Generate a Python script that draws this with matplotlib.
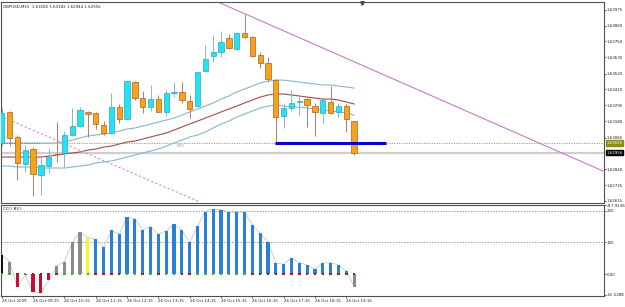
import matplotlib
matplotlib.use("Agg")
import matplotlib.pyplot as plt
from matplotlib.transforms import blended_transform_factory
import numpy as np

# GBPUSD M15, 26 Oct 2009 08:15 .. 19:30
opens = [1.63026, 1.63247, 1.63069, 1.62877, 1.62983, 1.62798, 1.62862, 1.62951, 1.62955, 1.63083,
         1.63147, 1.63247, 1.63240, 1.63154, 1.63097, 1.63282, 1.63197, 1.63460, 1.63346, 1.63282,
         1.63339, 1.63247, 1.63385, 1.63389, 1.63325, 1.63289, 1.63538, 1.63645, 1.63674, 1.63773,
         1.63695, 1.63809, 1.63781, 1.63652, 1.63595, 1.63474, 1.63218, 1.63275, 1.63315, 1.63339,
         1.63289, 1.63240, 1.63318, 1.63247, 1.63289, 1.63182]
highs = [1.63282, 1.63254, 1.63083, 1.63012, 1.62997, 1.62919, 1.62983, 1.63175, 1.63111, 1.63275,
         1.63282, 1.63254, 1.63247, 1.63182, 1.63382, 1.63304, 1.63467, 1.63467, 1.63396, 1.63439,
         1.63368, 1.63403, 1.63460, 1.63460, 1.63368, 1.63531, 1.63724, 1.63795, 1.63823, 1.63802,
         1.63816, 1.63944, 1.63788, 1.63674, 1.63638, 1.63482, 1.63311, 1.63403, 1.63375, 1.63346,
         1.63311, 1.63353, 1.63432, 1.63311, 1.63304, 1.63182]
lows = [1.63004, 1.63004, 1.62762, 1.62817, 1.62648, 1.62656, 1.62810, 1.62891, 1.62855, 1.63076,
        1.63140, 1.63069, 1.63126, 1.63083, 1.63090, 1.63168, 1.63190, 1.63332, 1.63240, 1.63254,
        1.63247, 1.63218, 1.63353, 1.63311, 1.63204, 1.63282, 1.63531, 1.63603, 1.63638, 1.63695,
        1.63688, 1.63773, 1.63638, 1.63560, 1.63460, 1.63026, 1.63133, 1.63254, 1.63225, 1.63140,
        1.63076, 1.63168, 1.63232, 1.63211, 1.63104, 1.62944]
closes = [1.63240, 1.63062, 1.62884, 1.62976, 1.62803, 1.62869, 1.62926, 1.62948, 1.63083, 1.63147,
          1.63261, 1.63232, 1.63161, 1.63097, 1.63282, 1.63197, 1.63467, 1.63346, 1.63282, 1.63339,
          1.63247, 1.63382, 1.63389, 1.63332, 1.63268, 1.63531, 1.63624, 1.63674, 1.63745, 1.63702,
          1.63809, 1.63781, 1.63645, 1.63595, 1.63482, 1.63211, 1.63275, 1.63311, 1.63322, 1.63296,
          1.63247, 1.63332, 1.63240, 1.63289, 1.63197, 1.62956]

band_upper = [1.63026, 1.63026, 1.63026, 1.63026, 1.63026, 1.63026, 1.63026, 1.63026, 1.63033, 1.63047,
              1.63062, 1.63076, 1.63083, 1.63090, 1.63097, 1.63111, 1.63126, 1.63133, 1.63147, 1.63161,
              1.63175, 1.63190, 1.63204, 1.63225, 1.63247, 1.63268, 1.63289, 1.63311, 1.63339, 1.63361,
              1.63389, 1.63410, 1.63432, 1.63453, 1.63467, 1.63474, 1.63474, 1.63467, 1.63460, 1.63453,
              1.63446, 1.63439, 1.63439, 1.63432, 1.63425, 1.63417]
band_mid = [1.62926, 1.62926, 1.62926, 1.62926, 1.62926, 1.62926, 1.62933, 1.62940, 1.62948, 1.62955,
            1.62962, 1.62976, 1.62983, 1.62997, 1.63004, 1.63019, 1.63033, 1.63040, 1.63054, 1.63069,
            1.63083, 1.63097, 1.63118, 1.63140, 1.63161, 1.63182, 1.63204, 1.63225, 1.63247, 1.63268,
            1.63289, 1.63311, 1.63332, 1.63353, 1.63368, 1.63375, 1.63375, 1.63368, 1.63361, 1.63353,
            1.63346, 1.63339, 1.63339, 1.63332, 1.63318, 1.63304]
band_lower = [1.62862, 1.62862, 1.62855, 1.62855, 1.62855, 1.62848, 1.62848, 1.62848, 1.62848, 1.62855,
              1.62862, 1.62869, 1.62884, 1.62891, 1.62898, 1.62912, 1.62926, 1.62940, 1.62955, 1.62969,
              1.62983, 1.63004, 1.63026, 1.63047, 1.63069, 1.63083, 1.63104, 1.63133, 1.63161, 1.63182,
              1.63211, 1.63232, 1.63254, 1.63275, 1.63289, 1.63296, 1.63289, 1.63282, 1.63282, 1.63275,
              1.63268, 1.63261, 1.63254, 1.63247, 1.63240, 1.63225]

cci = [60, 39, -42, -4, -57, -61, -20, 25, 39, 100,
       132, 115, 110, 84, 139, 125, 179, 175, 139, 150,
       125, 137, 157, 139, 100, 152, 197, 205, 203, 195,
       195, 195, 155, 128, 102, 34, 31, 50, 36, 28,
       16, 34, 36, 28, 9, -40]
cci_col = ["k", "g", "r", "r", "r", "r", "r", "g", "g", "g",
           "g", "y", "b", "b", "b", "b", "b", "b", "b", "b",
           "b", "b", "b", "b", "b", "b", "b", "b", "b", "b",
           "b", "b", "b", "b", "b", "b", "b", "b", "b", "b",
           "b", "b", "b", "b", "b", "g"]
dot_col = ["g", "g", "r", "g", "r", "r", "r", "r", "g", "g",
           "g", "g", "r", "r", "r", "r", "g", "g", "r", "g",
           "r", "g", "g", "r", "r", "g", "g", "g", "g", "g",
           "g", "g", "r", "r", "r", "r", "r", "r", "r", "r",
           "r", "r", "r", "r", "r", "r"]

xlabels = ["26 Oct 2009", "26 Oct 09:15", "26 Oct 10:15", "26 Oct 11:15", "26 Oct 12:15",
           "26 Oct 13:15", "26 Oct 14:15", "26 Oct 15:15", "26 Oct 16:15", "26 Oct 17:15",
           "26 Oct 18:15", "26 Oct 19:15"]
price_ticks = [1.63975, 1.63860, 1.63750, 1.63635, 1.63520, 1.63410, 1.63295, 1.63180,
               1.63065, 1.62840, 1.62725, 1.62615]
cci_ticks = [217.9136, 200, 100, 0, -65.5288]
cci_tick_labels = ["217.9136", "200", "100", "0.00", "-65.5288"]

# drawn objects (bar index, price)
trend_solid = [(27.9, 1.64023), (76.8, 1.62826)]
trend_dashed = [(-0.2, 1.63218), (25.3, 1.62606)]
support = [(34.9, 1.63026), (49.1, 1.63026)]
ms1_level = 1.63026
bid = 1.62956

hist_colors = {"k": "#111111", "g": "#8a8a8a", "r": "#c8102e", "y": "#f5f52a", "b": "#2a7fd6"}
dot_colors = {"g": "#3cb043", "r": "#c0101c"}

fs = 2.9
bars = np.arange(len(opens))
o = np.array(opens); c = np.array(closes)
up = c >= o

fig = plt.figure(figsize=(6.25, 3.07), dpi=100)
fig.patch.set_facecolor("white")
ax = fig.add_axes([1/625, 104/307, 603/625, 201/307])
ax2 = fig.add_axes([1/625, 11/307, 603/625, 91/307])

for a in (ax, ax2):
    a.set_xlim(-0.09, 76.9)
    for s in a.spines.values():
        s.set_color("#505050")
        s.set_linewidth(0.8)
    a.yaxis.tick_right()
    a.tick_params(axis="y", length=1.5, width=0.5, labelsize=fs, pad=0.6, colors="#202020")

ax.set_ylim(1.62599, 1.64030)

# horizontal levels
ax.axhline(bid, color="#cfcfcf", lw=1.6, zorder=1)
ax.axhline(ms1_level, color="#9a9a30", lw=0.6, ls=(0, (1.5, 1.5)), zorder=1)
ax.plot([-0.1, 4.7], [ms1_level, ms1_level], color="#202050", lw=0.6, ls=(0, (1.5, 1.5)), zorder=2)
ax.text(22.3, ms1_level - 0.00006, "MS1", color="#a8a8a8", fontsize=fs, va="top", ha="left")

# bands
ax.plot(bars, band_upper, color="#86b6d2", lw=0.8, zorder=2)
ax.plot(bars, band_lower, color="#86b6d2", lw=0.8, zorder=2)
ax.plot(bars, band_mid, color="#a04d48", lw=0.8, zorder=2)

# trend lines
ax.plot(*zip(*trend_solid), color="#c77bc9", lw=0.8, zorder=2)
ax.plot(*zip(*trend_dashed), color="#d08bd2", lw=0.8, ls=(0, (2, 2)), zorder=2)

# candles
wick_col = np.where(up, "#86b7cf", "#b07a72")
ax.vlines(bars, lows, highs, colors=wick_col, lw=0.7, zorder=3)
body_h = np.maximum(np.abs(c - o), 0.000008)
ax.bar(bars[up], body_h[up], bottom=np.minimum(o, c)[up], width=0.68,
       color="#25e2f2", edgecolor="#27a7c7", linewidth=0.5, zorder=4)
ax.bar(bars[~up], body_h[~up], bottom=np.minimum(o, c)[~up], width=0.68,
       color="#f7a21d", edgecolor="#b0601a", linewidth=0.5, zorder=4)

# support segment
ax.plot(*zip(*support), color="#0000c8", lw=2.2, solid_capstyle="butt", zorder=5)

ax.set_yticks(price_ticks)
ax.set_yticklabels(["%.5f" % p for p in price_ticks])
ax.set_xticks([])

tr = blended_transform_factory(ax.transAxes, ax.transData)
ax.text(1.0035, bid, "%.5f" % bid, transform=tr, fontsize=fs, color="white", va="center", ha="left",
        bbox=dict(boxstyle="square,pad=0.15", fc="black", ec="black"), zorder=6)
ax.text(1.0035, ms1_level, "1.63025", transform=tr, fontsize=fs, color="white", va="center", ha="left",
        bbox=dict(boxstyle="square,pad=0.15", fc="#8c8c1c", ec="#8c8c1c"), zorder=6)

ax.text(0.004, 0.985, "GBPUSD,M15  %.5f %.5f %.5f %.5f" % (opens[-1], highs[-1], lows[-1], closes[-1]),
        transform=ax.transAxes, fontsize=fs, va="top", ha="left", color="#202020")
trx = blended_transform_factory(ax.transData, ax.transAxes)
ax.plot([46], [0.995], marker="v", color="#404040", ms=2.5, transform=trx, clip_on=False)

# CCI pane
ax2.set_ylim(-69.5, 218)
ax2.axhline(200, color="#707070", lw=0.5, ls=(0, (2, 2)))
ax2.axhline(100, color="#707070", lw=0.5, ls=(0, (2, 2)))
ax2.plot(bars, cci, color="#c8c8c8", lw=0.6, zorder=2)
ax2.bar(bars, cci, width=0.4, color=[hist_colors[k] for k in cci_col], zorder=3)
ax2.scatter(bars, np.zeros(len(bars)), marker="s", s=3, linewidths=0,
            c=[dot_colors[k] for k in dot_col], zorder=4)
ax2.text(0.004, 0.975, "CCI ( 83 )", transform=ax2.transAxes, fontsize=fs, va="top", ha="left")
ax2.set_yticks(cci_ticks)
ax2.set_yticklabels(cci_tick_labels)
ax2.set_xticks(bars[::4])
ax2.set_xticklabels(xlabels)
ax2.tick_params(axis="x", length=1.5, width=0.5, labelsize=fs, pad=1, colors="#202020")
for lab in ax2.get_xticklabels():
    lab.set_ha("left")

fig.savefig("out.png", dpi=100)
